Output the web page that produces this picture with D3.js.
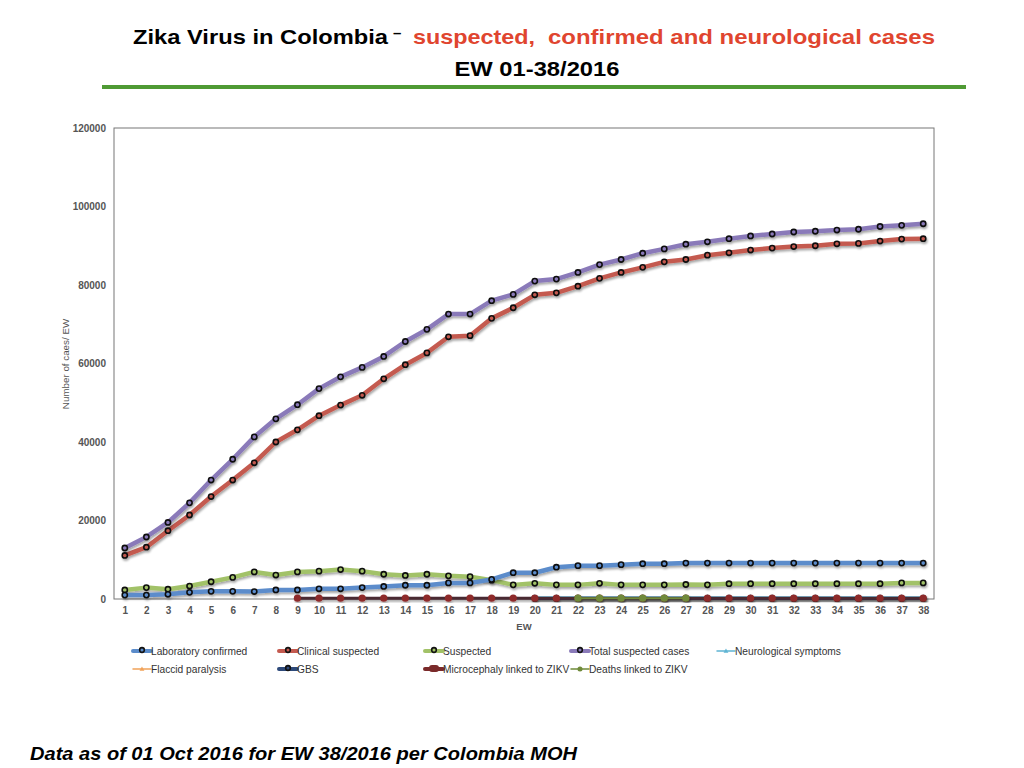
<!DOCTYPE html>
<html><head><meta charset="utf-8">
<script src="https://cdn.jsdelivr.net/npm/d3@7/dist/d3.min.js"></script>
<style>body{margin:0;background:#fff;} svg{display:block;}</style>
</head><body>
<svg id="c" width="1024" height="768"></svg>
<script>
const weeks = d3.range(1, 39);
const yTicks = [0, 20000, 40000, 60000, 80000, 100000, 120000];

const labConfirmed = [1000,1000,1200,1700,1950,1950,1900,2300,2300,2600,2600,2900,3200,3500,3500,4100,4100,5000,6700,
  6700,8100,8500,8500,8750,9000,9000,9150,9150,9150,9150,9150,9150,9150,9150,9150,9150,9150,9150];
const clinicalSuspected = [11100,13200,17400,21400,26100,30300,34700,40000,43100,46700,49400,51900,56100,59700,62700,66800,67100,71500,74200,
  77500,78000,79700,81700,83200,84500,85900,86500,87600,88200,88900,89400,89800,90000,90500,90600,91200,91700,91800];
const suspected = [2300,2900,2500,3300,4400,5500,6900,6100,6900,7100,7500,7100,6300,6000,6300,5900,5700,4800,3600,
  4000,3600,3600,4000,3600,3600,3600,3700,3600,3900,3900,3900,3900,3900,3900,3900,3900,4100,4100];
const totalSuspected = [13000,15800,19500,24500,30300,35600,41300,45900,49500,53600,56600,59000,61800,65600,68700,72600,72600,76000,77600,
  81000,81500,83200,85200,86500,88100,89200,90400,91000,91800,92500,93000,93500,93700,94000,94200,94900,95200,95600];
const neuroSymptoms = [null,null,null,null,null,null,null,null,null,null,null,null,null,null,null,null,null,null,null,
  500,500,500,500,500,500,500,500,500,500,500,500,500,500,500,500,500,500,500];
const flaccidParalysis = [null,null,null,null,null,null,null,null,null,null,null,null,null,null,null,null,null,null,null,
  100,100,100,100,100,100,100,100,100,100,100,100,100,100,100,100,100,100,100];
const gbs = [null,null,null,null,null,null,null,null,null,null,null,null,null,null,null,null,null,null,null,
  150,150,150,150,150,150,150,150,150,150,150,150,150,150,150,150,150,150,150];
const microcephaly = [null,null,null,null,null,null,null,null,200,200,200,200,200,200,200,200,200,200,200,
  200,200,200,200,200,200,200,200,200,200,200,200,200,200,200,200,200,200,200];
const deaths = [null,null,null,null,null,null,null,null,null,null,null,null,null,null,null,null,null,null,null,
  null,null,200,200,200,200,200,200,null,null,null,null,null,null,null,null,null,null,null];

const seriesNames = ["Laboratory confirmed","Clinical suspected","Suspected","Total suspected cases","Neurological symptoms",
  "Flaccid paralysis","GBS","Microcephaly linked to ZIKV","Deaths linked to ZIKV"];
const seriesValues = [labConfirmed, clinicalSuspected, suspected, totalSuspected, neuroSymptoms, flaccidParalysis, gbs, microcephaly, deaths];
const seriesColors = ["#5b8ccb","#c45a50","#a2c268","#8a7ab9","#5fb4d3","#f1a35a","#2e4a7a","#7a2a2a","#6f8a3a"];
const seriesMarker = ["ring","ring","ring","ring","tri","tri","ring","dot","dot"];
const seriesWidth = [4.5,4.5,4.5,4.5,1.5,1.5,3,3,2];
const drawOrder = [5,6,4,2,0,1,3,7,8];

const svg = d3.select("#c");
const defs = svg.append("defs");
const f = defs.append("filter").attr("id","sh").attr("x","-5%").attr("y","-5%").attr("width","110%").attr("height","120%");
f.append("feDropShadow").attr("dx",1).attr("dy",2).attr("stdDeviation",1.3).attr("flood-color","#000").attr("flood-opacity",0.35);

// Title
const tf = "'Liberation Sans', Arial, Helvetica, sans-serif";
svg.append("text").attr("x",133).attr("y",44).attr("font-family",tf).attr("font-weight","bold").attr("font-size",21)
  .attr("textLength",255).attr("lengthAdjust","spacingAndGlyphs").attr("fill","#000").text("Zika Virus in Colombia");
svg.append("text").attr("x",393).attr("y",38).attr("font-family",tf).attr("font-weight","bold").attr("font-size",15)
  .attr("fill","#000").text("–");
svg.append("text").attr("x",413).attr("y",44).attr("font-family",tf).attr("font-weight","bold").attr("font-size",21)
  .attr("textLength",122).attr("lengthAdjust","spacingAndGlyphs").attr("fill","#e0452f").text("suspected,");
svg.append("text").attr("x",548).attr("y",44).attr("font-family",tf).attr("font-weight","bold").attr("font-size",21)
  .attr("textLength",387).attr("lengthAdjust","spacingAndGlyphs").attr("fill","#e0452f").text("confirmed and neurological cases");
svg.append("text").attr("x",537).attr("y",76).attr("text-anchor","middle").attr("font-family",tf).attr("font-weight","bold").attr("font-size",21)
  .attr("textLength",165).attr("lengthAdjust","spacingAndGlyphs").attr("fill","#000").text("EW 01-38/2016");
svg.append("rect").attr("x",102).attr("y",85).attr("width",864).attr("height",4).attr("fill","#4f9a34");

// Chart
const L = 114, R = 934, T = 128, B = 599;
const x = d3.scalePoint().domain(weeks).range([L, R]).padding(0.5);
const y = d3.scaleLinear().domain([0, 120000]).range([B, T]);

svg.append("rect").attr("x",L).attr("y",T).attr("width",R-L).attr("height",B-T).attr("fill","none").attr("stroke","#777").attr("stroke-width",1);

const yAxis = svg.append("g").attr("transform",`translate(${L},0)`)
  .call(d3.axisLeft(y).tickValues(yTicks).tickSize(0).tickPadding(8).tickFormat(d3.format("d")));
yAxis.select(".domain").remove();
yAxis.selectAll("text").attr("font-family",tf).attr("font-size",10).attr("font-weight","bold").attr("fill","#555");

const xAxis = svg.append("g").attr("transform",`translate(0,${B})`)
  .call(d3.axisBottom(x).tickSize(0).tickPadding(8));
xAxis.select(".domain").remove();
xAxis.selectAll("text").attr("font-family",tf).attr("font-size",10).attr("font-weight","bold").attr("fill","#555");

svg.append("text").attr("x",524).attr("y",630).attr("text-anchor","middle").attr("font-family",tf).attr("font-size",9.5)
  .attr("font-weight","bold").attr("fill","#555").text("EW");
svg.append("text").attr("transform","translate(69,364) rotate(-90)").attr("text-anchor","middle").attr("font-family",tf)
  .attr("font-size",9.8).attr("fill","#555").text("Number of caes/ EW");

const line = d3.line().defined(d => d.v != null).x(d => x(d.w)).y(d => y(d.v));

function drawMarker(g, kind, color, cx, cy, scale) {
  scale = scale || 1;
  if (kind === "ring") {
    g.append("circle").attr("cx",cx).attr("cy",cy).attr("r",2.6*scale).attr("fill",color).attr("stroke","#111").attr("stroke-width",1.6);
  } else if (kind === "dot") {
    g.append("circle").attr("cx",cx).attr("cy",cy).attr("r",3.6*scale).attr("fill",color).attr("stroke","none");
  } else {
    const s = 3*scale;
    g.append("path").attr("d",`M${cx},${cy-s}L${cx+s},${cy+s*0.7}L${cx-s},${cy+s*0.7}Z`).attr("fill",color);
  }
}

drawOrder.forEach(i => {
  const data = weeks.map((w, k) => ({w, v: seriesValues[i][k]}));
  const g = svg.append("g").attr("filter","url(#sh)");
  g.append("path").attr("d", line(data)).attr("fill","none").attr("stroke", i === 7 ? "#4a2a30" : seriesColors[i])
    .attr("stroke-width",seriesWidth[i]).attr("stroke-linejoin","round").attr("stroke-linecap","round");
  data.filter(d => d.v != null).forEach(d => drawMarker(g, seriesMarker[i], i === 7 ? "#8e2b2b" : seriesColors[i], x(d.w), y(d.v)));
});

// Legend
const legX = [133, 279, 425, 571, 717];
seriesNames.forEach((name, i) => {
  const lx = legX[i % 5], ly = i < 5 ? 651 : 669;
  const g = svg.append("g");
  g.append("line").attr("x1",lx).attr("x2",lx+18).attr("y1",ly).attr("y2",ly).attr("stroke",seriesColors[i])
    .attr("stroke-width", seriesMarker[i] === "tri" || i === 8 ? 1.5 : 4).attr("stroke-linecap","round");
  if (seriesMarker[i] === "ring") drawMarker(g, "ring", seriesColors[i], lx+9, ly-1, 0.9);
  else if (seriesMarker[i] === "tri") drawMarker(g, "tri", seriesColors[i], lx+9, ly, 0.8);
  else if (i === 7) g.append("rect").attr("x",lx+4).attr("y",ly-4).attr("width",10).attr("height",7).attr("rx",3).attr("fill",seriesColors[i]);
  else drawMarker(g, "dot", seriesColors[i], lx+9, ly, 0.7);
  g.append("text").attr("x",lx+18).attr("y",ly+3.5).attr("font-family",tf).attr("font-size",10.2).attr("fill","#333").text(name);
});

// Footer
svg.append("text").attr("x",30).attr("y",760).attr("font-family",tf).attr("font-weight","bold").attr("font-style","italic")
  .attr("font-size",18).attr("textLength",547).attr("lengthAdjust","spacingAndGlyphs").attr("fill","#000")
  .text("Data as of 01 Oct 2016 for EW 38/2016 per Colombia MOH");
</script>
</body></html>
